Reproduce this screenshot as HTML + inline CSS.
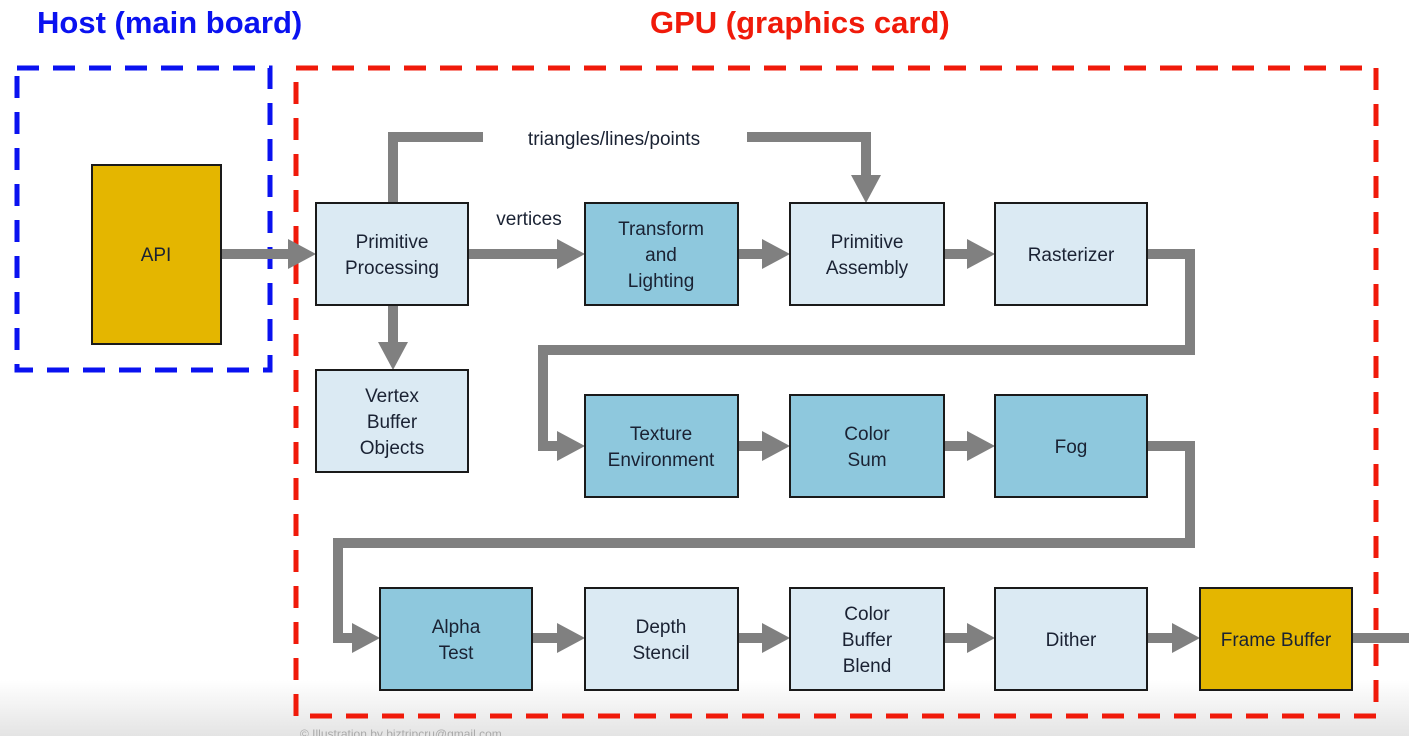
<!DOCTYPE html>
<html><head><style>
body{margin:0;background:#fff;}
svg{display:block;font-family:"Liberation Sans","DejaVu Sans",sans-serif;}
</style></head><body>
<svg width="1409" height="736" viewBox="0 0 1409 736" xmlns="http://www.w3.org/2000/svg">
<defs>
<linearGradient id="bg" x1="0" y1="0" x2="0" y2="1">
<stop offset="0" stop-color="#ffffff"/><stop offset="1" stop-color="#e4e4e4"/>
</linearGradient>
</defs>
<rect x="0" y="0" width="1409" height="736" fill="#fff"/>
<rect x="0" y="680" width="1409" height="56" fill="url(#bg)"/>
<text x="37" y="33" font-size="31" font-weight="bold" fill="#0a12f0">Host (main board)</text>
<text x="650" y="33" font-size="31" font-weight="bold" fill="#f01a0a">GPU (graphics card)</text>
<rect x="17" y="68" width="253" height="302" fill="none" stroke="#0a12f0" stroke-width="5" stroke-dasharray="22,14"/>
<rect x="296" y="68" width="1080" height="648" fill="none" stroke="#f01a0a" stroke-width="5" stroke-dasharray="22,14"/>
<g stroke="#808080" stroke-width="10" fill="none">
<path d="M221,254 H292"/>
<path d="M468,254 H562"/>
<path d="M738,254 H768"/>
<path d="M944,254 H973"/>
<path d="M393,203 V137 H483"/>
<path d="M747,137 H866 V180"/>
<path d="M393,305 V348"/>
<path d="M1147,254 H1190 V350 H543 V446 H562"/>
<path d="M738,446 H768"/>
<path d="M944,446 H973"/>
<path d="M1147,446 H1190 V543 H338 V638 H357"/>
<path d="M532,638 H562"/>
<path d="M738,638 H768"/>
<path d="M944,638 H973"/>
<path d="M1147,638 H1178"/>
<path d="M1352,638 H1409"/>
</g>
<g fill="#808080">
<polygon points="288,239 316,254 288,269"/>
<polygon points="557,239 585,254 557,269"/>
<polygon points="762,239 790,254 762,269"/>
<polygon points="967,239 995,254 967,269"/>
<polygon points="851,175 881,175 866,203"/>
<polygon points="378,342 408,342 393,370"/>
<polygon points="557,431 585,446 557,461"/>
<polygon points="762,431 790,446 762,461"/>
<polygon points="967,431 995,446 967,461"/>
<polygon points="352,623 380,638 352,653"/>
<polygon points="557,623 585,638 557,653"/>
<polygon points="762,623 790,638 762,653"/>
<polygon points="967,623 995,638 967,653"/>
<polygon points="1172,623 1200,638 1172,653"/>
</g>
<g stroke="#1a1a1a" stroke-width="2">
<rect x="92" y="165" width="129" height="179" fill="#e4b600"/>
<rect x="316" y="203" width="152" height="102" fill="#dbeaf3"/>
<rect x="585" y="203" width="153" height="102" fill="#8ec8dd"/>
<rect x="790" y="203" width="154" height="102" fill="#dbeaf3"/>
<rect x="995" y="203" width="152" height="102" fill="#dbeaf3"/>
<rect x="316" y="370" width="152" height="102" fill="#dbeaf3"/>
<rect x="585" y="395" width="153" height="102" fill="#8ec8dd"/>
<rect x="790" y="395" width="154" height="102" fill="#8ec8dd"/>
<rect x="995" y="395" width="152" height="102" fill="#8ec8dd"/>
<rect x="380" y="588" width="152" height="102" fill="#8ec8dd"/>
<rect x="585" y="588" width="153" height="102" fill="#dbeaf3"/>
<rect x="790" y="588" width="154" height="102" fill="#dbeaf3"/>
<rect x="995" y="588" width="152" height="102" fill="#dbeaf3"/>
<rect x="1200" y="588" width="152" height="102" fill="#e4b600"/>
</g>
<g font-size="19" fill="#1a2233" text-anchor="middle">
<text x="156" y="261">API</text>
<text x="392" y="248">Primitive</text><text x="392" y="274">Processing</text>
<text x="661" y="235">Transform</text><text x="661" y="261">and</text><text x="661" y="287">Lighting</text>
<text x="867" y="248">Primitive</text><text x="867" y="274">Assembly</text>
<text x="1071" y="261">Rasterizer</text>
<text x="392" y="402">Vertex</text><text x="392" y="428">Buffer</text><text x="392" y="454">Objects</text>
<text x="661" y="440">Texture</text><text x="661" y="466">Environment</text>
<text x="867" y="440">Color</text><text x="867" y="466">Sum</text>
<text x="1071" y="453">Fog</text>
<text x="456" y="633">Alpha</text><text x="456" y="659">Test</text>
<text x="661" y="633">Depth</text><text x="661" y="659">Stencil</text>
<text x="867" y="620">Color</text><text x="867" y="646">Buffer</text><text x="867" y="672">Blend</text>
<text x="1071" y="646">Dither</text>
<text x="1276" y="646">Frame Buffer</text>
<text x="614" y="145">triangles/lines/points</text>
<text x="529" y="225">vertices</text>
</g>
<text x="300" y="738" font-size="12" fill="#aaaaaa">© Illustration by biztripcru@gmail.com</text>
</svg>
</body></html>
